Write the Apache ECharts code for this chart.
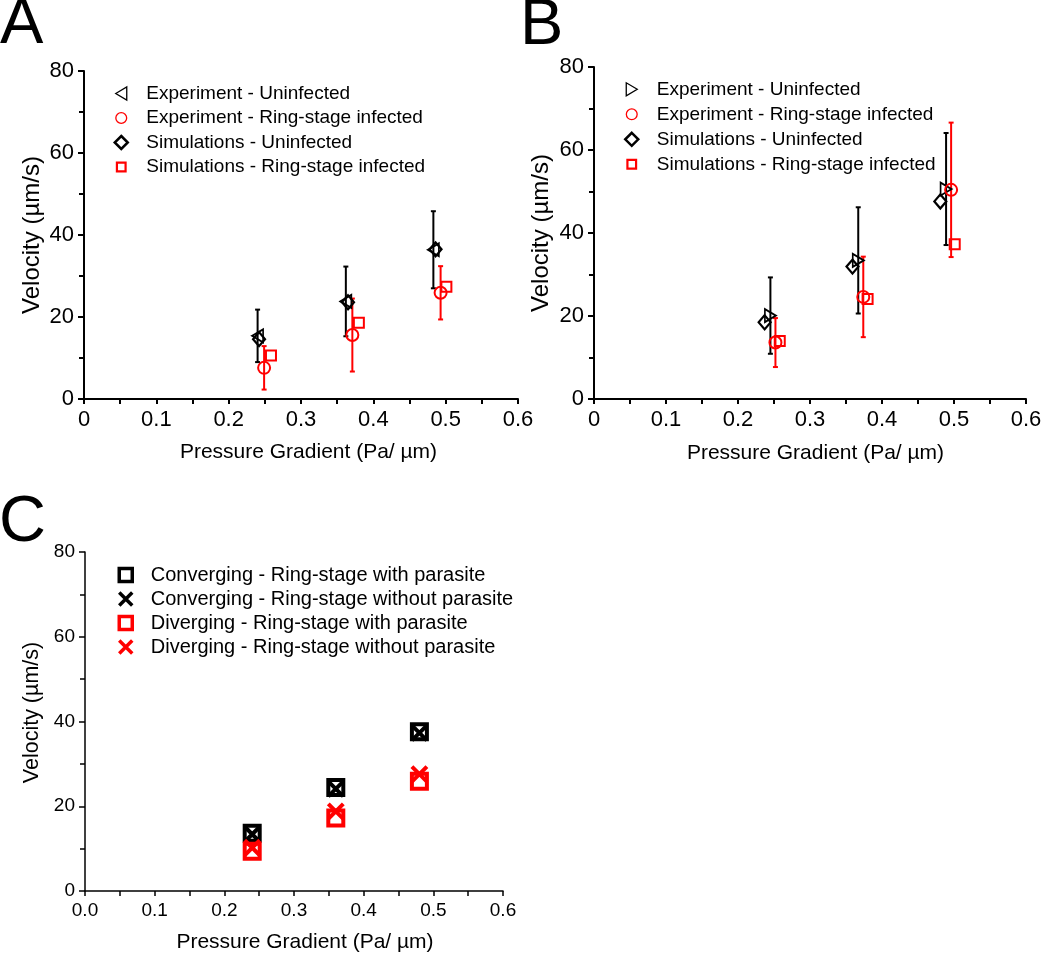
<!DOCTYPE html>
<html>
<head>
<meta charset="utf-8">
<script src="https://cdn.jsdelivr.net/npm/echarts@6/dist/echarts.min.js"></script>
<style>
  html, body { margin: 0; padding: 0; background: #fff; }
  #chart { width: 1050px; height: 956px; }
</style>
</head>
<body>
<div id="chart"></div>
<script>
// tick labels
const xLabelsAB = ['0', '0.1', '0.2', '0.3', '0.4', '0.5', '0.6'];
const xLabelsC = ['0.0', '0.1', '0.2', '0.3', '0.4', '0.5', '0.6'];
const yLabels = ['0', '20', '40', '60', '80'];

// panel A : [pressure gradient, velocity]
const aExpUninf = [[0.240, 15.4], [0.362, 23.8], [0.483, 36.4]];
const aExpUninfErr = [6.4, 8.5, 9.4];
const aExpRing = [[0.249, 7.6], [0.371, 15.6], [0.493, 25.9]];
const aExpRingErr = [5.3, 8.9, 6.5];
const aSimUninf = [[0.242, 14.6], [0.365, 23.6], [0.486, 36.5]];
const aSimRing = [[0.2585, 10.6], [0.380, 18.6], [0.501, 27.4]];

// panel B
const bExpUninf = [[0.245, 20.1], [0.367, 33.4], [0.489, 50.6]];
const bExpUninfErr = [9.2, 12.8, 13.5];
const bExpRing = [[0.252, 13.6], [0.374, 24.6], [0.496, 50.4]];
const bExpRingErr = [5.9, 9.7, 16.2];
const bSimUninf = [[0.237, 18.5], [0.359, 31.9], [0.481, 47.6]];
const bSimRing = [[0.258, 14.0], [0.380, 24.1], [0.501, 37.3]];

// panel C
const cConvWith = [[0.24, 13.6], [0.36, 24.4], [0.48, 37.6]];
const cConvWithout = [[0.24, 13.4], [0.36, 24.1], [0.48, 37.3]];
const cDivWith = [[0.24, 9.4], [0.36, 17.2], [0.48, 25.9]];
const cDivWithout = [[0.24, 10.2], [0.36, 18.8], [0.48, 27.6]];

const FONT = '"Liberation Sans", Arial, Helvetica, sans-serif';
const RED = '#ff0000';
const BLACK = '#000000';
const NOFILL = 'rgba(0,0,0,0)';

const TRI_LEFT = 'path://M0,6.5L11,0L11,13Z';
const TRI_RIGHT = 'path://M11,6.5L0,0L0,13Z';
const CROSS = 'path://M0,0L10,10M10,0L0,10';
// legend-only icons (keep aspect inside the legend box)
const ICON_DIAMOND = 'path://M5,0L10,5L5,10L0,5Z';
const ICON_CIRCLE = 'path://M0,0M1,6A5,5,0,1,0,11,6A5,5,0,1,0,1,6ZM12,12';
const ICON_SQUARE_SMALL = 'path://M0,0M2,2H10V10H2ZM12,12';
const ICON_SQUARE = 'path://M0,0H10V10H0Z';

function xAxis(gi, labels, fs, lw, gap, shift) {
  return {
    type: 'value', gridIndex: gi, min: 0, max: 0.6, interval: 0.1,
    name: 'Pressure Gradient (Pa/ µm)', nameLocation: 'middle', nameGap: gap,
    nameTextStyle: { fontSize: 21, color: BLACK, fontFamily: FONT, padding: [0, 0, 0, shift] },
    axisLine: { show: true, onZero: false, lineStyle: { color: BLACK, width: lw } },
    axisTick: { show: true, length: 5, lineStyle: { color: BLACK, width: lw } },
    minorTick: { show: true, splitNumber: 2, length: 5, lineStyle: { color: BLACK, width: lw } },
    splitLine: { show: false }, minorSplitLine: { show: false },
    axisLabel: {
      fontSize: fs, color: BLACK, fontFamily: FONT, margin: 10,
      formatter: v => labels[Math.round(v * 10)]
    }
  };
}

function yAxis(gi, fs, lw, nameSize, gap, shift) {
  return {
    type: 'value', gridIndex: gi, min: 0, max: 80, interval: 20,
    name: 'Velocity (µm/s)', nameLocation: 'middle', nameGap: gap,
    nameTextStyle: { fontSize: nameSize, color: BLACK, fontFamily: FONT, padding: [0, 0, 0, shift] },
    axisLine: { show: true, onZero: false, lineStyle: { color: BLACK, width: lw } },
    axisTick: { show: true, length: 6, lineStyle: { color: BLACK, width: lw } },
    minorTick: { show: true, splitNumber: 2, length: 5, lineStyle: { color: BLACK, width: lw } },
    splitLine: { show: false }, minorSplitLine: { show: false },
    axisLabel: {
      fontSize: fs, color: BLACK, fontFamily: FONT, margin: 10,
      formatter: v => yLabels[Math.round(v / 20)]
    }
  };
}

function scatter(name, gi, data, symbol, size, color, bw) {
  return {
    type: 'scatter', name: name, xAxisIndex: gi, yAxisIndex: gi,
    data: data, symbol: symbol, symbolSize: size, silent: true, z: 3,
    itemStyle: { color: NOFILL, borderColor: color, borderWidth: bw, opacity: 1 }
  };
}

function errorBars(gi, points, errs, color) {
  return {
    type: 'custom', xAxisIndex: gi, yAxisIndex: gi, silent: true, z: 2,
    data: points.map((p, i) => [p[0], p[1], errs[i]]),
    renderItem: function (params, api) {
      const x = api.value(0), y = api.value(1), e = api.value(2);
      const top = api.coord([x, y + e]);
      const bot = api.coord([x, y - e]);
      const style = { stroke: color, lineWidth: 2 };
      return {
        type: 'group',
        children: [
          { type: 'line', shape: { x1: top[0], y1: top[1], x2: bot[0], y2: bot[1] }, style: style },
          { type: 'line', shape: { x1: top[0] - 2.5, y1: top[1], x2: top[0] + 2.5, y2: top[1] }, style: style },
          { type: 'line', shape: { x1: bot[0] - 2.5, y1: bot[1], x2: bot[0] + 2.5, y2: bot[1] }, style: style }
        ]
      };
    }
  };
}

function legendBase(left, top, gap, fs, ih) {
  return {
    orient: 'vertical', left: left, top: top, padding: 0,
    itemWidth: 40, itemHeight: ih, itemGap: gap, selectedMode: false,
    textStyle: { fontSize: fs, color: BLACK, fontFamily: FONT, lineHeight: 20 }
  };
}

function legendAB(triIcon) {
  return [
    { name: 'Experiment - Uninfected', icon: triIcon, itemStyle: { color: NOFILL, borderColor: BLACK, borderWidth: 1.3 } },
    { name: 'Experiment - Ring-stage infected', icon: ICON_CIRCLE, itemStyle: { color: NOFILL, borderColor: RED, borderWidth: 1.3 } },
    { name: 'Simulations - Uninfected', icon: ICON_DIAMOND, itemStyle: { color: NOFILL, borderColor: BLACK, borderWidth: 2.5 } },
    { name: 'Simulations - Ring-stage infected', icon: ICON_SQUARE_SMALL, itemStyle: { color: NOFILL, borderColor: RED, borderWidth: 2.2 } }
  ];
}

const chart = echarts.init(document.getElementById('chart'), null, { renderer: 'canvas' });

chart.setOption({
  animation: false,
  backgroundColor: '#fff',
  grid: [
    { left: 84, top: 71, width: 434, height: 328, outerBoundsMode: 'none' },
    { left: 594, top: 67, width: 432, height: 332, outerBoundsMode: 'none' },
    { left: 85, top: 552, width: 418, height: 339, outerBoundsMode: 'none' }
  ],
  xAxis: [
    xAxis(0, xLabelsAB, 22, 2, 43, 15),
    xAxis(1, xLabelsAB, 22, 2, 44, 11),
    xAxis(2, xLabelsC, 19, 1.5, 41, 22)
  ],
  yAxis: [
    yAxis(0, 22, 2, 24, 40, 0),
    yAxis(1, 22, 2, 24, 41, 0),
    yAxis(2, 19, 1.5, 21.5, 42, 18)
  ],
  legend: [
    Object.assign(legendBase(113.5, 83.5, 4.5, 19, 13), { data: legendAB(TRI_LEFT) }),
    Object.assign(legendBase(624, 79.3, 5, 19, 13), { data: legendAB(TRI_RIGHT) }),
    Object.assign(legendBase(117.5, 565, 4, 20, 13), {
      data: [
        { name: 'Converging - Ring-stage with parasite', icon: ICON_SQUARE, itemStyle: { color: NOFILL, borderColor: BLACK, borderWidth: 3.5 } },
        { name: 'Converging - Ring-stage without parasite', icon: CROSS, itemStyle: { color: NOFILL, borderColor: BLACK, borderWidth: 3.5 } },
        { name: 'Diverging - Ring-stage with parasite', icon: ICON_SQUARE, itemStyle: { color: NOFILL, borderColor: RED, borderWidth: 3.5 } },
        { name: 'Diverging - Ring-stage without parasite', icon: CROSS, itemStyle: { color: NOFILL, borderColor: RED, borderWidth: 3.5 } }
      ]
    })
  ],
  graphic: [
    { type: 'text', x: 0, y: 25.5, style: { text: 'A', fontSize: 65, fontFamily: FONT, fill: BLACK, verticalAlign: 'middle' } },
    { type: 'text', x: 520, y: 26.5, style: { text: 'B', fontSize: 65, fontFamily: FONT, fill: BLACK, verticalAlign: 'middle' } },
    { type: 'text', x: -1, y: 523.5, style: { text: 'C', fontSize: 65, fontFamily: FONT, fill: BLACK, verticalAlign: 'middle' } }
  ],
  series: [
    // A
    errorBars(0, aExpUninf, aExpUninfErr, BLACK),
    errorBars(0, aExpRing, aExpRingErr, RED),
    scatter('Experiment - Uninfected', 0, aExpUninf, TRI_LEFT, [11, 13], BLACK, 1.8),
    scatter('Experiment - Ring-stage infected', 0, aExpRing, 'circle', 12, RED, 2),
    scatter('Simulations - Uninfected', 0, aSimUninf, 'diamond', [12, 14], BLACK, 2.2),
    scatter('Simulations - Ring-stage infected', 0, aSimRing, 'rect', 10, RED, 2),
    // B
    errorBars(1, bExpUninf, bExpUninfErr, BLACK),
    errorBars(1, bExpRing, bExpRingErr, RED),
    scatter('Experiment - Uninfected', 1, bExpUninf, TRI_RIGHT, [11, 13], BLACK, 1.8),
    scatter('Experiment - Ring-stage infected', 1, bExpRing, 'circle', 12, RED, 2),
    scatter('Simulations - Uninfected', 1, bSimUninf, 'diamond', [12, 14], BLACK, 2.2),
    scatter('Simulations - Ring-stage infected', 1, bSimRing, 'rect', 10, RED, 2),
    // C
    scatter('Converging - Ring-stage with parasite', 2, cConvWith, 'rect', 15, BLACK, 4),
    scatter('Converging - Ring-stage without parasite', 2, cConvWithout, CROSS, 15, BLACK, 4),
    scatter('Diverging - Ring-stage with parasite', 2, cDivWith, 'rect', 15, RED, 4),
    scatter('Diverging - Ring-stage without parasite', 2, cDivWithout, CROSS, 15, RED, 4)
  ]
});
</script>
</body>
</html>
